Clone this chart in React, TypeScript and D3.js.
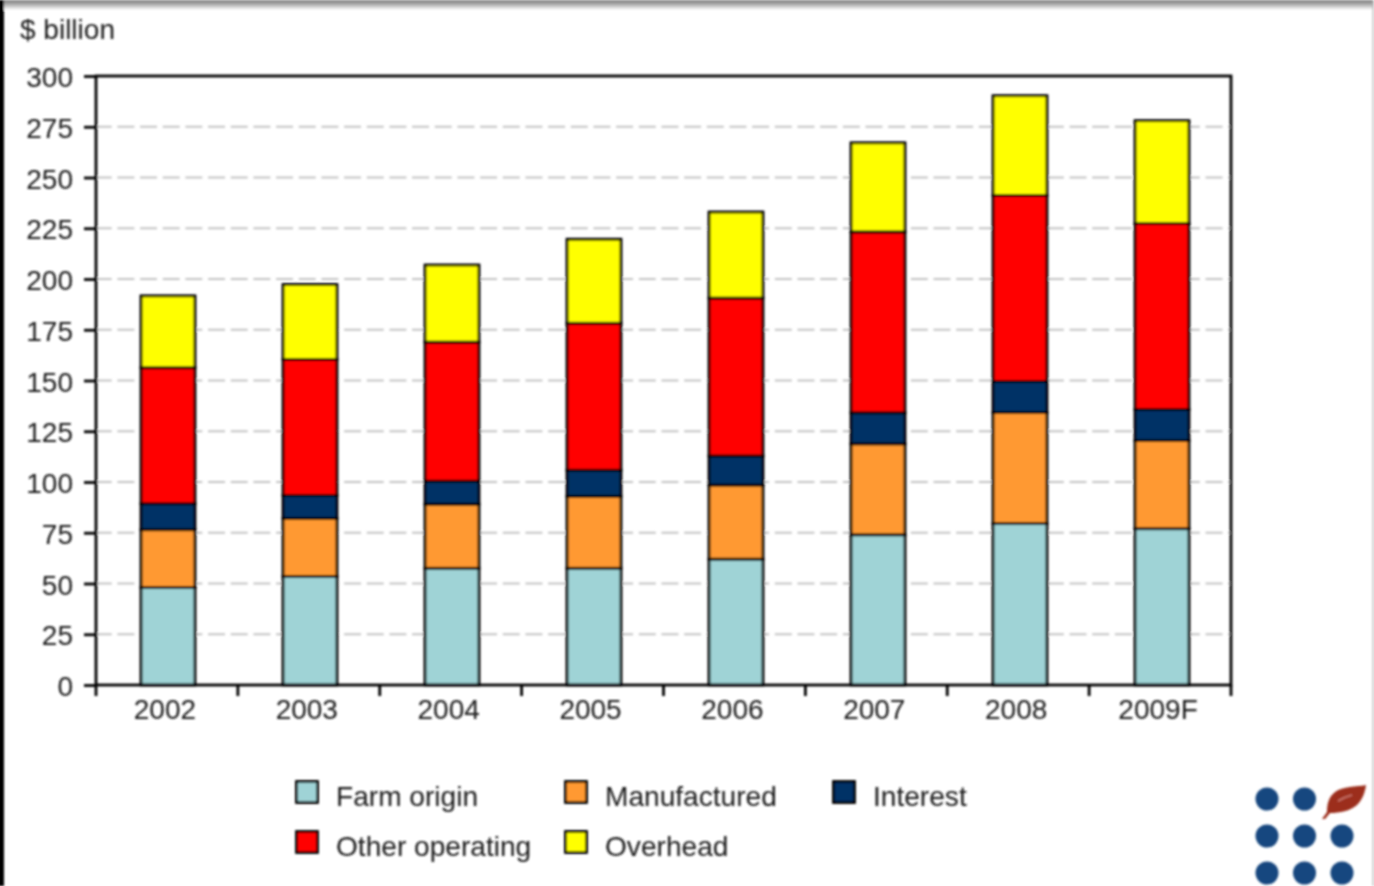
import React, { useRef, useEffect } from 'react';
import * as d3 from 'd3';

const years = ['2002', '2003', '2004', '2005', '2006', '2007', '2008', '2009F'];
const farmOrigin = [48, 53.5, 57.5, 57.5, 62, 74, 79.5, 77];
const manufactured = [28.5, 28.6, 31.6, 35.5, 36.5, 44.8, 54.7, 43.4];
const interest = [12.8, 11.3, 11.3, 12.8, 14.3, 15.3, 15.3, 15.3];
const otherOperating = [67, 67, 68.5, 72.4, 77.8, 89.1, 91.6, 91.6];
const overhead = [35.4, 36.9, 38, 41.4, 42.4, 43.9, 49.2, 50.7];

const seriesNames = ['Farm origin', 'Manufactured', 'Interest', 'Other operating', 'Overhead'];
const seriesValues = [farmOrigin, manufactured, interest, otherOperating, overhead];
const seriesColors = ['#9fd3d6', '#ff9933', '#003366', '#ff0000', '#ffff00'];
const yTicks = [0, 25, 50, 75, 100, 125, 150, 175, 200, 225, 250, 275, 300];

const logoRows = [0, 1, 2];
const logoCols = [0, 1, 2];

export default function App() {
  const svgRef = useRef<SVGSVGElement>(null);

  useEffect(() => {
    if (!svgRef.current) return;

    const svg = d3.select(svgRef.current);
    svg.selectAll('*').remove();

    const width = 1374;
    const height = 886;
    const margin = { top: 76, right: 143, bottom: 201, left: 96 };
    const font = '"Liberation Sans", Arial, sans-serif';
    const textColor = '#1a1a1a';
    const lineWidth = 2.8;

    const defs = svg.append('defs');
    const shadow = defs.append('linearGradient').attr('id', 'topShade').attr('x1', 0).attr('x2', 0).attr('y1', 0).attr('y2', 1);
    shadow.append('stop').attr('offset', 0).attr('stop-color', '#7a7a7a');
    shadow.append('stop').attr('offset', 0.5).attr('stop-color', '#b5b5b5');
    shadow.append('stop').attr('offset', 1).attr('stop-color', '#ffffff');
    defs.append('filter').attr('id', 'soft')
      .append('feGaussianBlur').attr('stdDeviation', 0.8);

    svg.append('rect').attr('width', width).attr('height', height).attr('fill', '#fff');

    const root = svg.append('g').attr('filter', 'url(#soft)');

    // window edge of the screenshot
    root.append('rect').attr('width', width).attr('height', 10).attr('fill', 'url(#topShade)');
    root.append('rect').attr('x', -2).attr('y', 0).attr('width', 6).attr('height', height).attr('fill', '#000');
    root.append('rect').attr('x', 1372.5).attr('y', 0).attr('width', 1.5).attr('height', height).attr('fill', '#bbb');

    root.append('text')
      .attr('x', 20).attr('y', 39)
      .attr('font-family', font).attr('font-size', 28).attr('fill', textColor)
      .text('$ billion');

    // bars sit slightly right of the category cells in the original
    const x = d3.scaleBand<string>()
      .domain(years)
      .range([97, 1233])
      .paddingInner(0.62)
      .paddingOuter(0.31);
    const xCells = d3.scaleBand<string>()
      .domain(years)
      .range([margin.left, width - margin.right]);
    const y = d3.scaleLinear()
      .domain([0, 300])
      .range([height - margin.bottom, margin.top]);

    // gridlines
    root.append('g')
      .selectAll('line')
      .data(yTicks.filter(d => d > 0 && d < 300))
      .enter()
      .append('line')
      .attr('x1', margin.left)
      .attr('x2', width - margin.right)
      .attr('y1', d => y(d))
      .attr('y2', d => y(d))
      .attr('stroke', '#c4c4c4')
      .attr('stroke-width', 2.2)
      .attr('stroke-dasharray', '17 5.67')
      .attr('stroke-dashoffset', 1.3);

    // stacked bars
    const rows = years.map((year, i) => {
      const row: Record<string, number | string> = { year };
      seriesNames.forEach((name, s) => { row[name] = seriesValues[s][i]; });
      return row;
    });
    const stacked = d3.stack<any>().keys(seriesNames)(rows);

    root.append('g')
      .selectAll('g')
      .data(stacked)
      .enter()
      .append('g')
      .attr('fill', (_, i) => seriesColors[i])
      .selectAll('rect')
      .data(d => d)
      .enter()
      .append('rect')
      .attr('x', d => x(d.data.year as string)!)
      .attr('width', x.bandwidth())
      .attr('y', d => y(d[1]))
      .attr('height', d => y(d[0]) - y(d[1]))
      .attr('stroke', '#000')
      .attr('stroke-width', lineWidth);

    // frame
    root.append('rect')
      .attr('x', margin.left)
      .attr('y', margin.top)
      .attr('width', width - margin.left - margin.right)
      .attr('height', height - margin.top - margin.bottom)
      .attr('fill', 'none')
      .attr('stroke', '#000')
      .attr('stroke-width', lineWidth);

    // axes
    const yAxis = root.append('g')
      .attr('transform', `translate(${margin.left},0)`)
      .call(d3.axisLeft(y).tickValues(yTicks).tickSize(12).tickPadding(11));
    yAxis.select('.domain').remove();
    yAxis.selectAll('line').attr('stroke', '#000').attr('stroke-width', lineWidth);
    yAxis.selectAll('text')
      .attr('dy', '0.38em')
      .attr('font-family', font).attr('font-size', 28).attr('fill', textColor);

    const step = xCells.step();
    const xEdges = d3.range(years.length + 1).map(i => margin.left + i * step);
    root.append('g')
      .selectAll('line')
      .data(xEdges)
      .enter()
      .append('line')
      .attr('x1', d => d)
      .attr('x2', d => d)
      .attr('y1', height - margin.bottom)
      .attr('y2', height - margin.bottom + 11)
      .attr('stroke', '#000')
      .attr('stroke-width', lineWidth);

    root.append('g')
      .selectAll('text')
      .data(years)
      .enter()
      .append('text')
      .attr('x', d => xCells(d)! + step / 2 - 2)
      .attr('y', 719)
      .attr('text-anchor', 'middle')
      .attr('font-family', font).attr('font-size', 28).attr('fill', textColor)
      .text(d => d);

    // legend
    const legendX = [296.5, 565.5, 833.5];
    const legendY = [781.5, 831.5];
    const legend = root.append('g')
      .selectAll('g')
      .data(seriesNames)
      .enter()
      .append('g')
      .attr('transform', (_, i) => `translate(${legendX[i % 3]},${legendY[Math.floor(i / 3)]})`);
    legend.append('rect')
      .attr('width', 21).attr('height', 21)
      .attr('fill', (_, i) => seriesColors[i])
      .attr('stroke', '#000').attr('stroke-width', lineWidth);
    legend.append('text')
      .attr('x', 39.5).attr('y', 24.5)
      .attr('font-family', font).attr('font-size', 28.1).attr('fill', textColor)
      .text(d => d);

    // logo dots and leaf
    const logoX = d3.scalePoint<number>().domain(logoCols).range([1267, 1342]);
    const logoY = d3.scalePoint<number>().domain(logoRows).range([799, 873]);
    const cells = logoRows.flatMap(r => logoCols.map(c => ({ r, c }))).filter(d => !(d.r === 0 && d.c === 2));
    root.append('g')
      .selectAll('circle')
      .data(cells)
      .enter()
      .append('circle')
      .attr('cx', d => logoX(d.c)!)
      .attr('cy', d => logoY(d.r)!)
      .attr('r', 11.5)
      .attr('fill', '#17477f');

    root.append('path')
      .attr('d', 'M1366 785 C1356 787 1343 786 1335 792 C1327 798 1327 808 1327 812 L1322 819 L1325 819 L1330 813 C1340 813 1350 811 1357 805 C1362 800 1365 793 1366 785 Z')
      .attr('fill', '#9c2f1e');
    root.append('path')
      .attr('d', 'M1338 801 C1343 798 1348 796 1352 795')
      .attr('fill', 'none')
      .attr('stroke', '#c9766a')
      .attr('stroke-width', 1.5);
  }, []);

  return (
    <svg
      ref={svgRef}
      width={1374}
      height={886}
      viewBox="0 0 1374 886"
      style={{ position: 'absolute', left: 0, top: 0, display: 'block' }}
    />
  );
}
